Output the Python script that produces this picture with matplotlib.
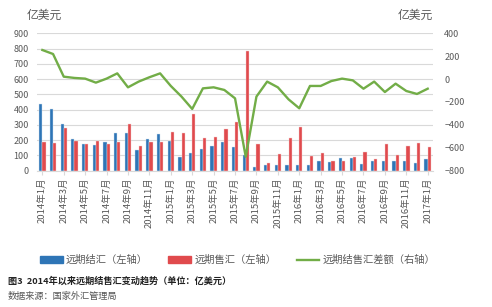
import matplotlib
matplotlib.use("Agg")
import matplotlib.pyplot as plt
from matplotlib.patches import Patch
from matplotlib.lines import Line2D
import numpy as np

plt.rcParams["font.family"] = ["Noto Sans CJK SC", "DejaVu Sans"]

# monthly, 2014年1月 .. 2017年1月
MONTHS = [f"{y}年{m}月" for y in (2014, 2015, 2016) for m in range(1, 13)] + ["2017年1月"]
JIEHUI = [437, 406, 306, 205, 177, 166, 188, 245, 245, 138, 210, 238,
          194, 92, 116, 144, 164, 188, 155, 105, 22, 35, 39, 35,
          35, 35, 61, 55, 83, 83, 46, 61, 61, 61, 61, 50, 79]
SHOUHUI = [190, 179, 277, 194, 173, 194, 177, 188, 306, 162, 188, 188,
           253, 245, 371, 216, 223, 273, 317, 784, 175, 50, 107, 212,
           284, 96, 116, 66, 66, 90, 122, 76, 175, 103, 164, 179, 157]
CHAE = [254, 219, 21, 10, 4, -31, 4, 50, -72, -22, 16, 50,
        -60, -153, -261, -81, -72, -95, -168, -678, -153, -22, -72, -177,
        -255, -60, -60, -17, 4, -11, -84, -22, -113, -40, -104, -130, -84]

BLUE = "#2e75b6"
RED = "#e04a4d"
GREEN = "#72ad47"
GREY = "#595959"

fig = plt.figure(figsize=(4.92, 3.07), dpi=100)
ax = fig.add_axes([0.0752, 0.444, 0.805, 0.4476])
ax2 = ax.twinx()

x = np.arange(len(MONTHS))
w = 0.3
ax.bar(x - w / 2, JIEHUI, w, color=BLUE, edgecolor="#cfe0f0", linewidth=0.3, zorder=2)
ax.bar(x + w / 2, SHOUHUI, w, color=RED, edgecolor="#f5d0d0", linewidth=0.3, zorder=2)
ax2.plot(x, CHAE, color=GREEN, linewidth=1.7, zorder=3)

ax.set_xlim(-0.5, len(MONTHS) - 0.5)
ax.set_ylim(0, 900)
ax.set_yticks(range(0, 901, 100))
ax2.set_ylim(-800, 400)
ax2.set_yticks(range(-800, 401, 200))

ax.grid(axis="y", color="#d9d9d9", linewidth=0.8, zorder=0)
ax.set_axisbelow(True)
for a in (ax, ax2):
    for s in a.spines.values():
        s.set_visible(False)
ax.spines["bottom"].set_visible(True)
ax.spines["bottom"].set_color("#d9d9d9")

ax.set_xticks(x[::2])
ax.set_xticklabels(MONTHS[::2], rotation=90, fontsize=6.8, color=GREY)
ax.tick_params(axis="x", length=3, color="#d9d9d9", pad=2)
ax.tick_params(axis="y", length=0, labelsize=6.5, labelcolor=GREY, pad=6)
ax2.tick_params(axis="y", length=0, labelsize=6.5, labelcolor=GREY, pad=8)

fig.text(0.055, 0.95, "亿美元", fontsize=8.5, color=GREY, va="center")
fig.text(0.809, 0.95, "亿美元", fontsize=8.5, color=GREY, va="center")

handles = [Patch(color=BLUE), Patch(color=RED), Line2D([], [], color=GREEN, linewidth=1.7)]
labels = ["远期结汇（左轴）", "远期售汇（左轴）", "远期结售汇差额（右轴）"]
fig.legend(handles, labels, loc="center", bbox_to_anchor=(0.483, 0.153), ncol=3,
           frameon=False, fontsize=7.4, handlelength=2.2, handleheight=0.6,
           handletextpad=0.3, columnspacing=2.0, labelcolor=GREY)

fig.text(0.016, 0.085, "图3  2014年以来远期结售汇变动趋势（单位：亿美元）",
         fontsize=6.6, fontweight="bold", color="#222222", va="center")
fig.text(0.016, 0.033, "数据来源：国家外汇管理局", fontsize=6.6, color="#555555", va="center")

fig.savefig("out.png", dpi=100)
